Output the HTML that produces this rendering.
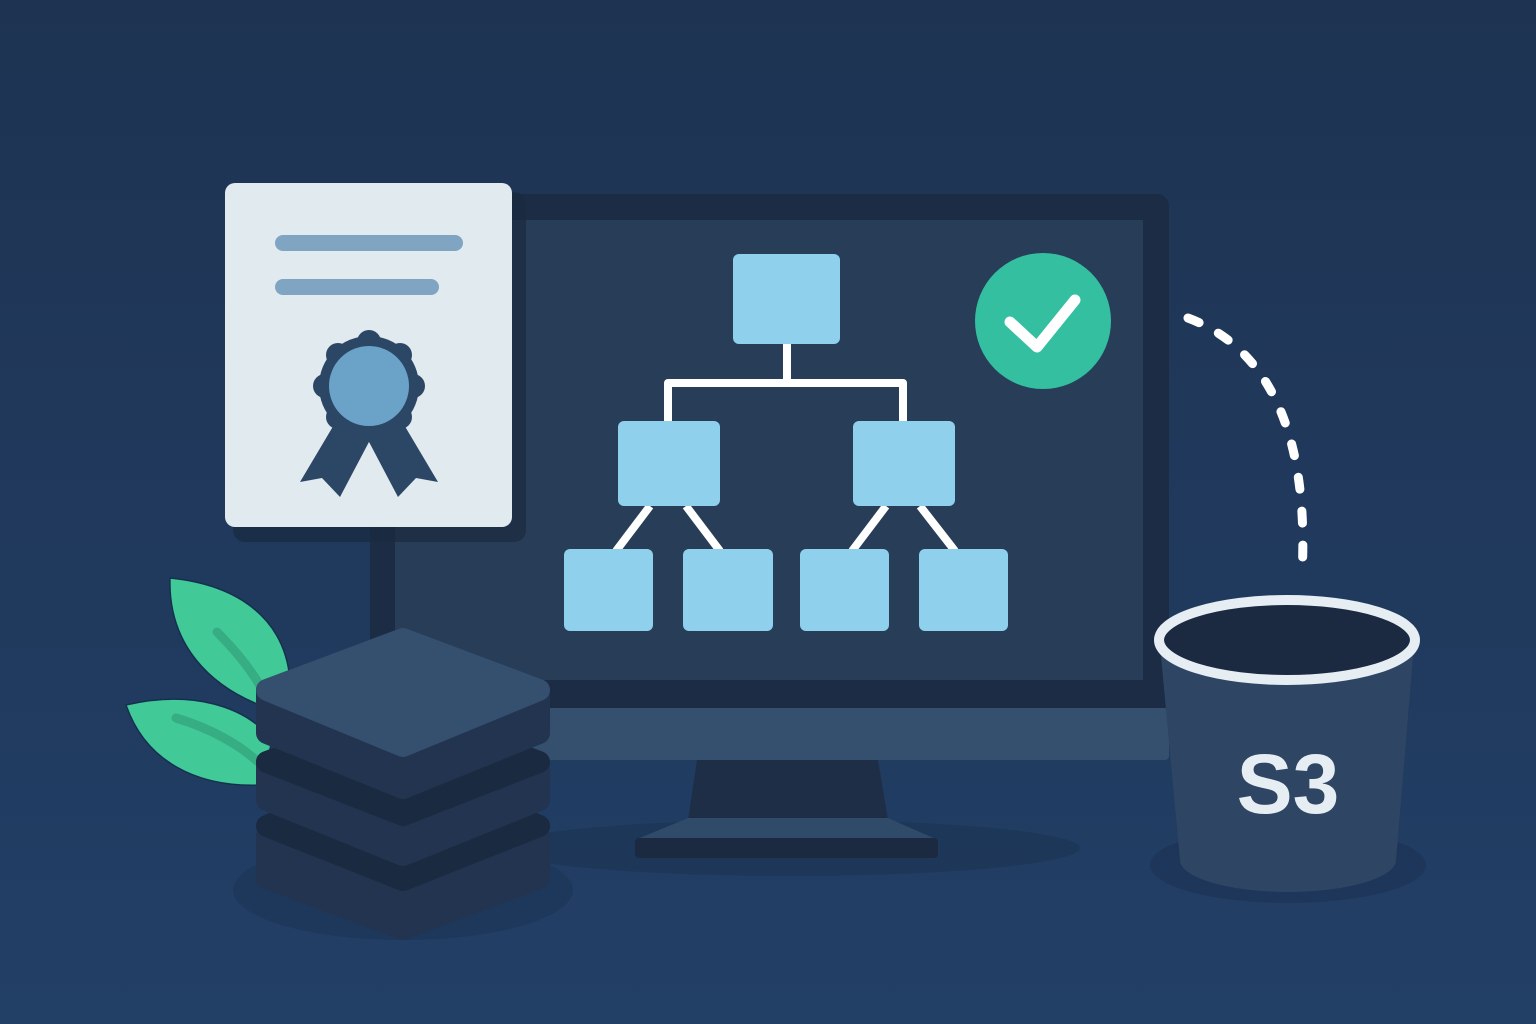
<!DOCTYPE html>
<html><head><meta charset="utf-8"><style>
html,body{margin:0;padding:0;width:1536px;height:1024px;overflow:hidden;background:#1f3656;}
svg{display:block}
</style></head><body>
<svg width="1536" height="1024" viewBox="0 0 1536 1024" xmlns="http://www.w3.org/2000/svg">
<defs>
<linearGradient id="bg" x1="0" y1="0" x2="0" y2="1">
<stop offset="0" stop-color="#1e3352"/><stop offset="1" stop-color="#223f66"/>
</linearGradient>
</defs>
<rect width="1536" height="1024" fill="url(#bg)"/>
<ellipse cx="790" cy="848" rx="290" ry="28" fill="#1d3556" opacity="0.7"/>
<ellipse cx="1288" cy="865" rx="138" ry="38" fill="#1d3556" opacity="0.8"/>

<g stroke="#15304f" stroke-width="1.5">
<path d="M170,578 C240,585 285,620 290,680 L280,712 C205,690 168,640 170,578 Z" fill="#41c997"/>
<path d="M126,705 C190,690 245,705 272,740 L262,785 C195,788 145,760 126,705 Z" fill="#41c997"/>
</g>
<path d="M217,632 C240,655 255,675 265,695" stroke="#36ad82" stroke-width="9" fill="none" stroke-linecap="round"/>
<path d="M176,718 C210,728 240,745 258,762" stroke="#36ad82" stroke-width="9" fill="none" stroke-linecap="round"/>

<rect x="370" y="194" width="799" height="566" rx="12" fill="#1b2c44"/>
<rect x="395" y="220" width="748" height="460" fill="#283d58"/>
<rect x="370" y="708" width="799" height="52" rx="4" fill="#354f6e"/>
<polygon points="697,760 878,760 888,820 688,820" fill="#1d2e46"/>
<polygon points="688,818 888,818 938,840 635,840" fill="#304a69"/>
<rect x="635" y="838" width="303" height="20" rx="4" fill="#1b2a40"/>

<g stroke="#ffffff" stroke-width="8" fill="none" stroke-linejoin="round">
<path d="M787,344 V383 M668,421 V383 H903 V421"/>
<path d="M650,506 L616,551 M686,506 L720,551 M886,506 L852,551 M920,506 L955,551"/>
</g>
<g fill="#8fd0ec">
<rect x="733" y="254" width="107" height="90" rx="6"/>
<rect x="618" y="421" width="102" height="85" rx="6"/>
<rect x="853" y="421" width="102" height="85" rx="6"/>
<rect x="564" y="549" width="89" height="82" rx="6"/>
<rect x="683" y="549" width="90" height="82" rx="6"/>
<rect x="800" y="549" width="89" height="82" rx="6"/>
<rect x="919" y="549" width="89" height="82" rx="6"/>
</g>

<circle cx="1043" cy="321" r="68" fill="#34bfa0"/>
<path d="M1010,322 L1037,347 L1075,300" stroke="#fff" stroke-width="11" fill="none" stroke-linecap="round" stroke-linejoin="round"/>

<rect x="233" y="192" width="293" height="350" rx="12" fill="#19293f" opacity="0.7"/>
<rect x="225" y="183" width="287" height="344" rx="10" fill="#e1eaee"/>
<rect x="275" y="235" width="188" height="16" rx="8" fill="#7fa5c2"/>
<rect x="275" y="279" width="164" height="16" rx="8" fill="#7fa5c2"/>
<polygon points="338,418 300,482 322,478 340,497 370,440" fill="#2c4766"/>
<polygon points="400,418 438,482 416,478 398,497 368,440" fill="#2c4766"/>
<circle cx="369" cy="386" r="50" fill="#2c4766"/>
<g fill="#2c4766">
<circle cx="369" cy="342" r="12"/><circle cx="413" cy="386" r="12"/><circle cx="369" cy="430" r="12"/><circle cx="325" cy="386" r="12"/>
<circle cx="400" cy="355" r="12"/><circle cx="400" cy="417" r="12"/><circle cx="338" cy="417" r="12"/><circle cx="338" cy="355" r="12"/>
</g>
<circle cx="369" cy="386" r="40" fill="#6aa3c7"/>

<path d="M1188,318 C1260,345 1310,420 1302,575" stroke="#fff" stroke-width="9" fill="none" stroke-linecap="round" stroke-dasharray="12 22"/>

<path d="M1160,645 L1180,860 A108,32 0 0 0 1396,860 L1414,645 Z" fill="#2e4664"/>
<ellipse cx="1287" cy="640" rx="128" ry="40" fill="#1b2a40" stroke="#e6edf3" stroke-width="10"/>
<text x="1288" y="813" text-anchor="middle" font-family="Liberation Sans, sans-serif" font-weight="bold" font-size="84" fill="#e6edf3">S3</text>

<ellipse cx="403" cy="890" rx="170" ry="50" fill="#1d3556" opacity="0.6"/>
<g stroke-linejoin="round" stroke-width="22">
<path d="M403,776 L539,836 V878 L403,929 L267,878 V836 Z" fill="#22344f" stroke="#22344f"/>
<path d="M403,766 L539,826 L403,880 L267,826 Z" fill="#1a2a40" stroke="#1a2a40"/>
<path d="M403,711 L539,762 V800 L403,855 L267,800 V762 Z" fill="#22344f" stroke="#22344f"/>
<path d="M403,711 L539,762 L403,815 L267,762 Z" fill="#1a2a40" stroke="#1a2a40"/>
<path d="M403,639 L539,690 V733 L403,788 L267,733 V690 Z" fill="#22344f" stroke="#22344f"/>
<path d="M403,639 L539,690 L403,746 L267,690 Z" fill="#354f6e" stroke="#354f6e"/>
</g>
</svg>
</body></html>
